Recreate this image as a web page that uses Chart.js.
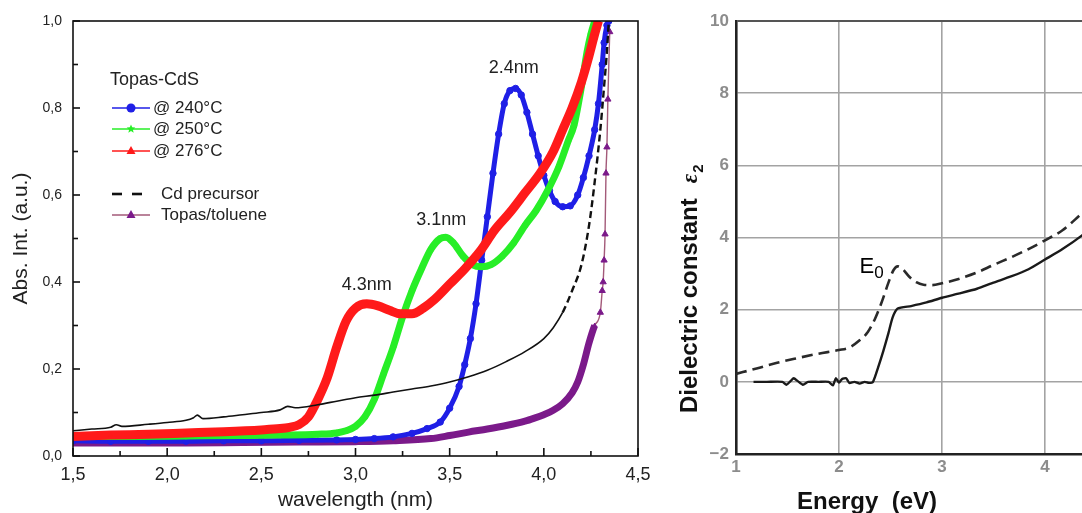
<!DOCTYPE html>
<html>
<head>
<meta charset="utf-8">
<script src="https://cdn.jsdelivr.net/npm/chart.js@4.4.1/dist/chart.umd.min.js"></script>
<style>
  html, body { margin: 0; padding: 0; background: #fff; overflow: hidden; width: 1082px; height: 513px; }
  #absChart { position: absolute; left: 0; top: 0; }
  #epsChart { position: absolute; left: 660px; top: 0; }
</style>
</head>
<body>
<canvas id="absChart" width="660" height="513"></canvas>
<canvas id="epsChart" width="520" height="513"></canvas>
<script>
const absCanvas = document.getElementById('absChart');
const epsCanvas = document.getElementById('epsChart');

const FONT = "'Liberation Sans', Arial, sans-serif";

// Topas-CdS absorption spectra
const x240 = [1.5, 1.7, 1.9, 2.1, 2.3, 2.5, 2.7, 2.9, 3.0, 3.1, 3.2, 3.3, 3.38, 3.45, 3.5, 3.55, 3.58, 3.61, 3.64, 3.67, 3.7, 3.73, 3.76, 3.79, 3.82, 3.85, 3.88, 3.91, 3.94, 3.97, 4.0, 4.03, 4.06, 4.1, 4.14, 4.18, 4.21, 4.24, 4.27, 4.29, 4.31, 4.32, 4.335, 4.345];
const abs240 = [0.035, 0.034, 0.034, 0.034, 0.035, 0.035, 0.036, 0.037, 0.038, 0.040, 0.044, 0.052, 0.063, 0.078, 0.11, 0.16, 0.21, 0.27, 0.35, 0.45, 0.55, 0.65, 0.74, 0.81, 0.84, 0.845, 0.83, 0.79, 0.74, 0.69, 0.645, 0.61, 0.585, 0.573, 0.575, 0.60, 0.64, 0.69, 0.75, 0.81, 0.90, 0.95, 0.99, 1.0];

const x250 = [1.5, 1.8, 2.1, 2.4, 2.6, 2.8, 2.9, 2.95, 3.0, 3.05, 3.1, 3.15, 3.2, 3.25, 3.3, 3.35, 3.4, 3.45, 3.48, 3.52, 3.57, 3.62, 3.67, 3.72, 3.78, 3.84, 3.9, 3.96, 4.02, 4.08, 4.13, 4.16, 4.2, 4.23, 4.25, 4.27];
const abs250 = [0.045, 0.045, 0.046, 0.047, 0.048, 0.05, 0.053, 0.058, 0.068, 0.09, 0.13, 0.19, 0.25, 0.32, 0.38, 0.43, 0.475, 0.5, 0.503, 0.49, 0.46, 0.44, 0.435, 0.44, 0.46, 0.49, 0.53, 0.565, 0.61, 0.665, 0.725, 0.76, 0.85, 0.93, 0.97, 1.0];

const x276 = [1.5, 1.7, 1.9, 2.1, 2.3, 2.5, 2.6, 2.65, 2.7, 2.75, 2.8, 2.85, 2.9, 2.95, 3.0, 3.06, 3.12, 3.18, 3.24, 3.3, 3.36, 3.42, 3.5, 3.58, 3.66, 3.74, 3.82, 3.9, 3.98, 4.05, 4.1, 4.15, 4.2, 4.24, 4.27, 4.29];
const abs276 = [0.045, 0.048, 0.05, 0.053, 0.056, 0.06, 0.063, 0.066, 0.072, 0.09, 0.13, 0.18, 0.25, 0.31, 0.34, 0.35, 0.345, 0.335, 0.327, 0.327, 0.34, 0.36, 0.395, 0.43, 0.47, 0.52, 0.56, 0.605, 0.65, 0.7, 0.75, 0.8, 0.86, 0.92, 0.97, 1.0];

const xCd = [1.5, 1.6, 1.7, 1.73, 1.76, 1.9, 2.0, 2.1, 2.14, 2.16, 2.19, 2.3, 2.4, 2.5, 2.6, 2.64, 2.68, 2.8, 2.9, 3.0, 3.1, 3.2, 3.3, 3.4, 3.5, 3.6, 3.7, 3.8, 3.9, 4.0, 4.05, 4.1, 4.15, 4.2, 4.24, 4.27, 4.3, 4.32, 4.335, 4.345];
const absCd = [0.058, 0.062, 0.066, 0.072, 0.068, 0.073, 0.077, 0.082, 0.088, 0.094, 0.086, 0.09, 0.095, 0.1, 0.106, 0.114, 0.111, 0.118, 0.126, 0.134, 0.14, 0.147, 0.154, 0.161, 0.17, 0.182, 0.197, 0.217, 0.24, 0.27, 0.295, 0.33, 0.38, 0.44, 0.53, 0.63, 0.75, 0.85, 0.93, 1.0];

const xTol = [1.5, 1.8, 2.1, 2.4, 2.7, 3.0, 3.2, 3.4, 3.5, 3.6, 3.7, 3.8, 3.9, 3.95, 4.0, 4.05, 4.1, 4.15, 4.18, 4.21, 4.24, 4.27, 4.3, 4.31, 4.315, 4.32, 4.325, 4.33, 4.335, 4.34, 4.35];
const absTol = [0.03, 0.03, 0.03, 0.031, 0.032, 0.033, 0.035, 0.04, 0.047, 0.055, 0.062, 0.07, 0.08, 0.087, 0.095, 0.105, 0.12, 0.145, 0.17, 0.21, 0.26, 0.3, 0.33, 0.38, 0.4, 0.45, 0.51, 0.65, 0.71, 0.82, 0.975];

// particle size labels next to the excitonic peaks
const sizeLabels = ['2.4nm', '3.1nm', '4.3nm'];
const sizeLabelX = [3.84, 3.455, 3.06];
const sizeLabelY = [0.892, 0.543, 0.393];

// imaginary part of the dielectric function
const eDashed = [1.0, 1.2, 1.4, 1.6, 1.8, 2.0, 2.1, 2.2, 2.28, 2.35, 2.42, 2.48, 2.53, 2.57, 2.62, 2.68, 2.75, 2.82, 2.9, 3.0, 3.17, 3.34, 3.5, 3.67, 3.84, 4.0, 4.17, 4.36, 4.5];
const eps2Dashed = [0.22, 0.37, 0.53, 0.66, 0.78, 0.88, 0.95, 1.15, 1.38, 1.75, 2.25, 2.75, 3.1, 3.2, 3.12, 2.92, 2.76, 2.69, 2.68, 2.73, 2.86, 3.03, 3.24, 3.45, 3.68, 3.92, 4.2, 4.67, 5.0];
const eSolid = [1.17, 1.3, 1.45, 1.49, 1.53, 1.56, 1.6, 1.65, 1.7, 1.8, 1.9, 1.94, 1.97, 2.0, 2.03, 2.07, 2.1, 2.15, 2.2, 2.25, 2.29, 2.33, 2.38, 2.43, 2.48, 2.52, 2.57, 2.7, 2.85, 3.0, 3.17, 3.34, 3.5, 3.67, 3.84, 4.0, 4.17, 4.36, 4.5];
const eps2Solid = [0, 0, 0, -0.08, 0.02, 0.1, 0.02, -0.08, 0, 0, 0, -0.1, 0.1, -0.02, 0.08, 0.1, -0.03, 0, -0.05, 0, -0.03, 0, 0.4, 0.85, 1.35, 1.78, 2.03, 2.1, 2.2, 2.33, 2.45, 2.58, 2.75, 2.92, 3.12, 3.39, 3.68, 4.06, 4.4];
const e0LabelX = 2.2;
const e0LabelY = 3.03;

function toPoints(xs, ys) {
  return xs.map((x, i) => ({ x: x, y: ys[i] }));
}

function onStep(v, step) {
  const q = v / step;
  return Math.abs(q - Math.round(q)) < 1e-6;
}

function comma(v) {
  return v.toFixed(1).replace('.', ',');
}

function marker(ctx, style, x, y, r, color) {
  ctx.fillStyle = color;
  ctx.beginPath();
  if (style === 'circle') {
    ctx.arc(x, y, r, 0, Math.PI * 2);
  } else if (style === 'triangle') {
    ctx.moveTo(x, y - r * 1.1);
    ctx.lineTo(x + r, y + r * 0.65);
    ctx.lineTo(x - r, y + r * 0.65);
    ctx.closePath();
  } else if (style === 'star') {
    for (let k = 0; k < 10; k++) {
      const rr = k % 2 === 0 ? r : r * 0.45;
      const a = -Math.PI / 2 + k * Math.PI / 5;
      ctx.lineTo(x + rr * Math.cos(a), y + rr * Math.sin(a));
    }
    ctx.closePath();
  }
  ctx.fill();
}

// box around the plot plus inward major/minor ticks
const frameTicks = {
  id: 'frameTicks',
  afterDraw(chart) {
    const { ctx, chartArea: a, scales } = chart;
    ctx.save();
    ctx.strokeStyle = '#111';
    ctx.lineWidth = 1.6;
    ctx.strokeRect(a.left, a.top, a.right - a.left, a.bottom - a.top);
    scales.x.ticks.forEach(t => {
      const px = scales.x.getPixelForValue(t.value);
      const len = t.label ? 8 : 5;
      ctx.beginPath();
      ctx.moveTo(px, a.bottom);
      ctx.lineTo(px, a.bottom - len);
      ctx.stroke();
    });
    scales.y.ticks.forEach(t => {
      const py = scales.y.getPixelForValue(t.value);
      const len = t.label ? 7 : 5;
      ctx.beginPath();
      ctx.moveTo(a.left, py);
      ctx.lineTo(a.left + len, py);
      ctx.stroke();
    });
    ctx.restore();
  }
};

// legend block in the upper left corner of the plot
const sampleLegend = {
  id: 'sampleLegend',
  afterDraw(chart) {
    const { ctx } = chart;
    const rows = [108, 129, 151, 194, 215];
    ctx.save();
    ctx.textBaseline = 'middle';
    ctx.fillStyle = '#222';
    ctx.font = '18px ' + FONT;
    ctx.fillText('Topas-CdS', 110, 80);
    ctx.font = '17px ' + FONT;
    chart.data.datasets.forEach((ds, i) => {
      const y = rows[i];
      ctx.strokeStyle = ds.borderColor;
      ctx.lineWidth = ds.legendDash ? 2.6 : 1.5;
      ctx.setLineDash(ds.legendDash || []);
      ctx.beginPath();
      ctx.moveTo(112, y);
      ctx.lineTo(ds.legendDash ? 142 : 150, y);
      ctx.stroke();
      ctx.setLineDash([]);
      if (ds.legendMarker) {
        marker(ctx, ds.legendMarker, 131, y, 4.5, ds.pointBackgroundColor);
      }
      ctx.fillStyle = '#222';
      ctx.fillText(ds.label, i > 2 ? 161 : 153, y);
    });
    ctx.restore();
  }
};

const sizeNotes = {
  id: 'sizeNotes',
  afterDraw(chart) {
    const { ctx, scales } = chart;
    ctx.save();
    ctx.fillStyle = '#222';
    ctx.font = '18px ' + FONT;
    ctx.textAlign = 'center';
    ctx.textBaseline = 'middle';
    sizeLabels.forEach((txt, i) => {
      ctx.fillText(txt, scales.x.getPixelForValue(sizeLabelX[i]), scales.y.getPixelForValue(sizeLabelY[i]));
    });
    ctx.restore();
  }
};

new Chart(absCanvas, {
  type: 'line',
  data: {
    datasets: [
      {
        label: '@ 240°C',
        data: toPoints(x240, abs240),
        borderColor: '#1f1fe6',
        pointBackgroundColor: '#1f1fe6',
        pointBorderColor: '#1f1fe6',
        pointStyle: 'circle',
        pointRadius: 3.2,
        pointBorderWidth: 1,
        borderWidth: 5,
        legendMarker: 'circle',
        order: 3
      },
      {
        label: '@ 250°C',
        data: toPoints(x250, abs250),
        borderColor: '#27ee27',
        pointBackgroundColor: '#27ee27',
        pointBorderColor: '#27ee27',
        pointStyle: 'star',
        pointRadius: 3.2,
        pointBorderWidth: 1.5,
        borderWidth: 7,
        legendMarker: 'star',
        order: 2
      },
      {
        label: '@ 276°C',
        data: toPoints(x276, abs276),
        borderColor: '#ff1a1a',
        pointBackgroundColor: '#ff1a1a',
        pointBorderColor: '#ff1a1a',
        pointStyle: 'triangle',
        pointRadius: 2.4,
        pointBorderWidth: 1,
        borderWidth: 9,
        legendMarker: 'triangle',
        order: 1
      },
      {
        label: 'Cd precursor',
        data: toPoints(xCd, absCd),
        borderColor: '#111',
        pointRadius: 0,
        borderWidth: 1.6,
        legendDash: [10, 10],
        segment: {
          borderDash: c => c.p0.parsed.x >= 4.1 ? [7, 4] : undefined,
          borderWidth: c => c.p0.parsed.x >= 4.1 ? 2.4 : undefined
        },
        order: 0
      },
      {
        label: 'Topas/toluene',
        data: toPoints(xTol, absTol),
        borderColor: '#a35a79',
        pointBackgroundColor: '#7b1a8a',
        pointBorderColor: '#7b1a8a',
        pointStyle: 'triangle',
        pointRadius: c => (c.raw && c.raw.x >= 4.28) ? 3.6 : 2.4,
        pointBorderWidth: 1,
        borderWidth: 1.4,
        legendMarker: 'triangle',
        segment: {
          borderColor: c => c.p0.parsed.x >= 4.27 ? undefined : '#7b1a8a',
          borderWidth: c => c.p0.parsed.x >= 4.27 ? undefined : 7
        },
        order: 4
      }
    ]
  },
  options: {
    responsive: false,
    animation: false,
    elements: { line: { cubicInterpolationMode: 'monotone' } },
    layout: { padding: { left: 0, top: 21, right: 22, bottom: 0 } },
    plugins: { legend: { display: false }, tooltip: { enabled: false } },
    scales: {
      x: {
        type: 'linear',
        min: 1.5,
        max: 4.5,
        afterFit: s => { s.height = 57; },
        grid: { display: false, drawTicks: false },
        border: { display: false },
        ticks: {
          stepSize: 0.25,
          autoSkip: false,
          maxRotation: 0,
          padding: 8,
          color: '#222',
          font: { size: 18, family: FONT },
          callback: v => onStep(v, 0.5) ? comma(v) : ''
        },
        title: {
          display: true,
          text: 'wavelength (nm)',
          color: '#222',
          font: { size: 21, family: FONT },
          padding: { top: 0, bottom: 0 }
        }
      },
      y: {
        type: 'linear',
        min: 0,
        max: 1,
        afterFit: s => { s.width = 73; },
        grid: { display: false, drawTicks: false },
        border: { display: false },
        ticks: {
          stepSize: 0.1,
          autoSkip: false,
          padding: 11,
          color: '#222',
          font: { size: 14, family: FONT },
          callback: v => onStep(v, 0.2) ? comma(v) : ''
        },
        title: {
          display: true,
          text: 'Abs. Int. (a.u.)',
          color: '#222',
          font: { size: 21, family: FONT },
          padding: { top: 9, bottom: 0 }
        }
      }
    }
  },
  plugins: [frameTicks, sampleLegend, sizeNotes]
});

// axis titles and the E0 peak label of the dielectric plot
const epsTitles = {
  id: 'epsTitles',
  afterDraw(chart) {
    const { ctx, chartArea: a, scales } = chart;
    ctx.save();
    ctx.fillStyle = '#111';
    ctx.font = 'bold 24px ' + FONT;
    ctx.textAlign = 'center';
    ctx.textBaseline = 'alphabetic';
    ctx.fillText('Energy  (eV)', a.left + 131, 509);

    ctx.save();
    ctx.translate(a.left - 39, 413);
    ctx.rotate(-Math.PI / 2);
    ctx.textAlign = 'left';
    ctx.fillText('Dielectric constant', 0, 0);
    const w = ctx.measureText('Dielectric constant').width;
    ctx.font = "italic bold 23px 'Liberation Serif', serif";
    ctx.fillText('ε', w + 15, 0);
    const we = ctx.measureText('ε').width;
    ctx.font = 'bold 15px ' + FONT;
    ctx.fillText('2', w + 15 + we + 1, 6);
    ctx.restore();

    const ex = scales.x.getPixelForValue(e0LabelX);
    const ey = scales.y.getPixelForValue(e0LabelY);
    ctx.textAlign = 'left';
    ctx.fillStyle = '#000';
    ctx.font = "22px 'Liberation Sans', sans-serif";
    ctx.fillText('E', ex, ey);
    const wE = ctx.measureText('E').width;
    ctx.font = "17px 'Liberation Sans', sans-serif";
    ctx.fillText('0', ex + wE, ey + 5);
    ctx.restore();
  }
};

const gridGray = '#a3a3a3';

new Chart(epsCanvas, {
  type: 'line',
  data: {
    datasets: [
      {
        label: 'dashed',
        data: toPoints(eDashed, eps2Dashed),
        borderColor: '#2a2a2a',
        borderWidth: 2.6,
        borderDash: [11, 6],
        pointRadius: 0,
        cubicInterpolationMode: 'monotone'
      },
      {
        label: 'solid',
        data: toPoints(eSolid, eps2Solid),
        borderColor: '#1a1a1a',
        borderWidth: 2.4,
        pointRadius: 0,
        tension: 0.2
      }
    ]
  },
  options: {
    responsive: false,
    animation: false,
    layout: { padding: { left: 0, top: 21, right: 32, bottom: 0 } },
    plugins: { legend: { display: false }, tooltip: { enabled: false } },
    scales: {
      x: {
        type: 'linear',
        min: 1,
        max: 5,
        afterFit: s => { s.height = 59; },
        grid: { color: gridGray, lineWidth: 1.6, drawTicks: false },
        border: { color: '#222', width: 2.6 },
        ticks: {
          stepSize: 1,
          padding: 3,
          color: '#8c8c8c',
          font: { size: 17, weight: 'bold', family: FONT }
        }
      },
      y: {
        type: 'linear',
        min: -2,
        max: 10,
        afterFit: s => { s.width = 76; },
        grid: {
          color: c => (c.tick && c.tick.value === 10) ? '#555' : gridGray,
          lineWidth: c => (c.tick && c.tick.value === 10) ? 2 : 1.6,
          drawTicks: false
        },
        border: { color: '#222', width: 2.6 },
        ticks: {
          stepSize: 2,
          padding: 7,
          color: '#8c8c8c',
          font: { size: 17, weight: 'bold', family: FONT },
          callback: v => v < 0 ? '\u2212' + Math.abs(v) : String(v)
        }
      }
    }
  },
  plugins: [epsTitles]
});
</script>
</body>
</html>
